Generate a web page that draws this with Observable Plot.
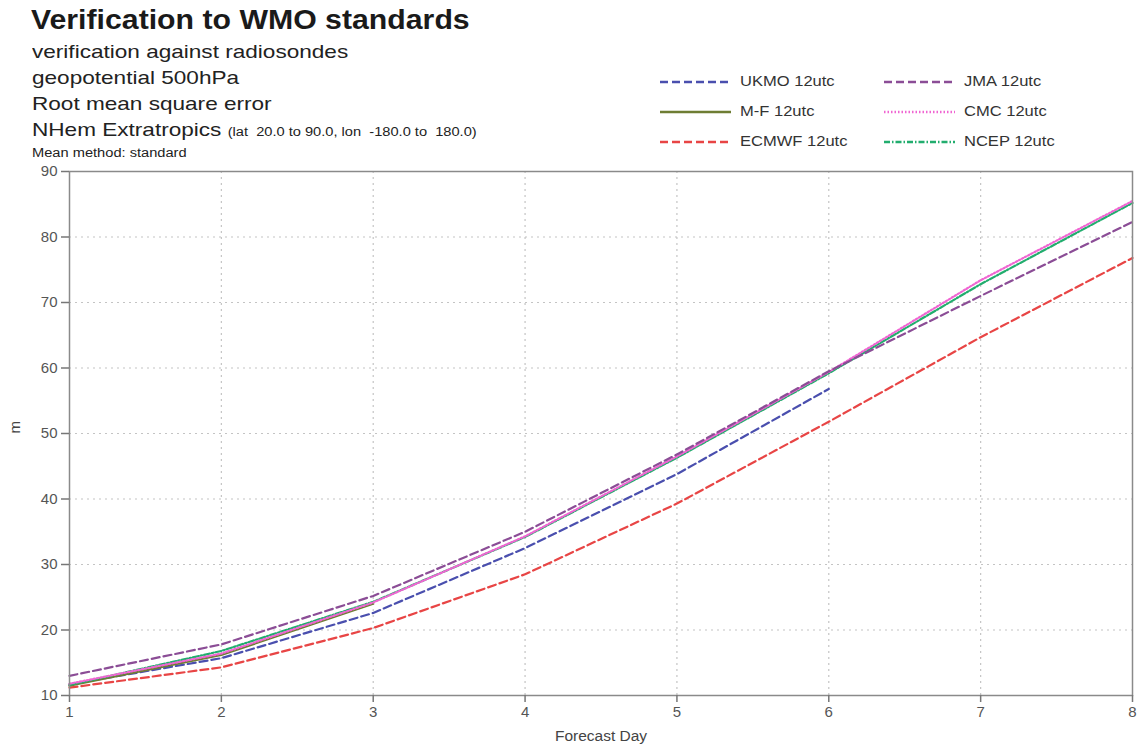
<!DOCTYPE html>
<html>
<head>
<meta charset="utf-8">
<script src="https://cdn.jsdelivr.net/npm/d3@7"></script>
<script src="https://cdn.jsdelivr.net/npm/@observablehq/plot@0.6"></script>
<style>
  html, body { margin: 0; padding: 0; background: #fff; }
  body { font-family: "Liberation Sans", Arial, Helvetica, sans-serif; }
  #wrap { position: relative; width: 1145px; height: 746px; overflow: hidden; }
  #chart { position: absolute; left: 0; top: 0; }
  .t { position: absolute; white-space: nowrap; color: #222; transform-origin: 0 0; transform: scaleX(1.22); }
  .leg { position: absolute; font-size: 14.5px; color: #333; white-space: nowrap; transform-origin: 0 0; transform: scaleX(1.14); }
</style>
</head>
<body>
<div id="wrap">
  <div id="chart"></div>
  <div class="t" style="left:31px; top:4px; font-size:27.5px; font-weight:bold; color:#1a1a1a; transform:scaleX(1.1);">Verification to WMO standards</div>
  <div class="t" style="left:32px; top:41px; font-size:18.5px;">verification against radiosondes</div>
  <div class="t" style="left:32px; top:67px; font-size:18.5px;">geopotential 500hPa</div>
  <div class="t" style="left:32px; top:93px; font-size:18.5px;">Root mean square error</div>
  <div class="t" style="left:32px; top:119px; font-size:18.5px;">NHem Extratropics <span style="font-size:12px;">(lat&nbsp; 20.0 to 90.0, lon&nbsp; -180.0 to&nbsp; 180.0)</span></div>
  <div class="t" style="left:32px; top:146px; font-size:12px;">Mean method: standard</div>
  <div id="legend"></div>
</div>
<script>
// ---- data ----
const days = [1, 2, 3, 4, 5, 6, 7, 8];
const yTicks = [10, 20, 30, 40, 50, 60, 70, 80, 90];
const seriesNames = ["UKMO 12utc", "M-F 12utc", "ECMWF 12utc", "JMA 12utc", "CMC 12utc", "NCEP 12utc"];
const ukmo  = [11.7, 15.7, 22.6, 32.5, 43.8, 56.8];
const mf    = [11.5, 16.2, 24.0];
const ecmwf = [11.2, 14.3, 20.3, 28.5, 39.3, 51.8, 64.7, 76.8];
const jma   = [13.0, 17.8, 25.2, 35.0, 46.8, 59.5, 71.0, 82.3];
const cmc   = [11.8, 16.4, 24.2, 34.3, 46.5, 59.4, 73.4, 85.5];
const ncep  = [11.6, 16.8, 24.3, 34.2, 46.3, 59.2, 72.8, 85.2];

// ---- styles ----
const styles = {
  "UKMO 12utc":  {color: "#4a4fae", dash: "8,4"},
  "M-F 12utc":   {color: "#6e7d33", dash: null},
  "ECMWF 12utc": {color: "#e84545", dash: "8,4"},
  "JMA 12utc":   {color: "#8b4d96", dash: "8,4"},
  "CMC 12utc":   {color: "#f065d2", dash: "1.5,2"},
  "NCEP 12utc":  {color: "#22ad6e", dash: "6,2,1.5,2"}
};
const valuesByName = {
  "UKMO 12utc": ukmo, "M-F 12utc": mf, "ECMWF 12utc": ecmwf,
  "JMA 12utc": jma, "CMC 12utc": cmc, "NCEP 12utc": ncep
};
const drawOrder = ["ECMWF 12utc", "UKMO 12utc", "M-F 12utc", "NCEP 12utc", "CMC 12utc", "JMA 12utc"];

const lineMarks = drawOrder.map(name => {
  const data = valuesByName[name].map((v, i) => ({day: days[i], value: v}));
  const s = styles[name];
  return Plot.line(data, {
    x: "day", y: "value", stroke: s.color, strokeWidth: 2.2,
    strokeDasharray: s.dash || undefined, curve: "linear"
  });
});

const chart = Plot.plot({
  width: 1145,
  height: 746,
  marginLeft: 69,
  marginRight: 13,
  marginTop: 171,
  marginBottom: 51,
  style: {fontFamily: "'Liberation Sans', Arial, Helvetica, sans-serif", color: "#555", background: "#fff"},
  x: {domain: [1, 8]},
  y: {domain: [10, 90]},
  marks: [
    Plot.ruleX(days.slice(1, -1), {stroke: "#c4c4c4", strokeDasharray: "2,4", strokeWidth: 1.2}),
    Plot.ruleY(yTicks.slice(1, -1), {stroke: "#c4c4c4", strokeDasharray: "2,4", strokeWidth: 1.2}),
    ...lineMarks,
    Plot.frame({stroke: "#8a8a8a", strokeWidth: 1.5}),
    Plot.axisX({ticks: days, tickSize: 7, tickPadding: 4, fontSize: 15, stroke: "#777", strokeWidth: 1.5, label: null, tickFormat: d => String(d)}),
    Plot.axisY({ticks: yTicks, tickSize: 8, tickPadding: 4, fontSize: 15, stroke: "#777", strokeWidth: 1.5, label: null}),
    Plot.text(["Forecast Day"], {frameAnchor: "bottom", dy: 45, fontSize: 15.5, fill: "#444"}),
    Plot.text(["m"], {frameAnchor: "left", dx: -54, rotate: -90, fontSize: 15, fill: "#444"})
  ]
});
document.getElementById("chart").appendChild(chart);

// ---- legend ----
const legendPos = [
  ["UKMO 12utc", 660, 82], ["M-F 12utc", 660, 112], ["ECMWF 12utc", 660, 142],
  ["JMA 12utc", 884, 82], ["CMC 12utc", 884, 112], ["NCEP 12utc", 884, 142]
];
const ns = "http://www.w3.org/2000/svg";
legendPos.forEach(([name, x, y]) => {
  const s = styles[name];
  const svg = document.createElementNS(ns, "svg");
  svg.setAttribute("width", 72); svg.setAttribute("height", 6);
  svg.style.position = "absolute"; svg.style.left = x + "px"; svg.style.top = (y - 3) + "px";
  const ln = document.createElementNS(ns, "line");
  ln.setAttribute("x1", 0); ln.setAttribute("x2", 71); ln.setAttribute("y1", 3); ln.setAttribute("y2", 3);
  ln.setAttribute("stroke", s.color); ln.setAttribute("stroke-width", 2.4);
  if (s.dash) ln.setAttribute("stroke-dasharray", s.dash);
  svg.appendChild(ln);
  document.getElementById("wrap").appendChild(svg);
  const lab = document.createElement("div");
  lab.className = "leg"; lab.textContent = name;
  lab.style.left = (x + 80) + "px"; lab.style.top = (y - 9) + "px";
  document.getElementById("wrap").appendChild(lab);
});
</script>
</body>
</html>
